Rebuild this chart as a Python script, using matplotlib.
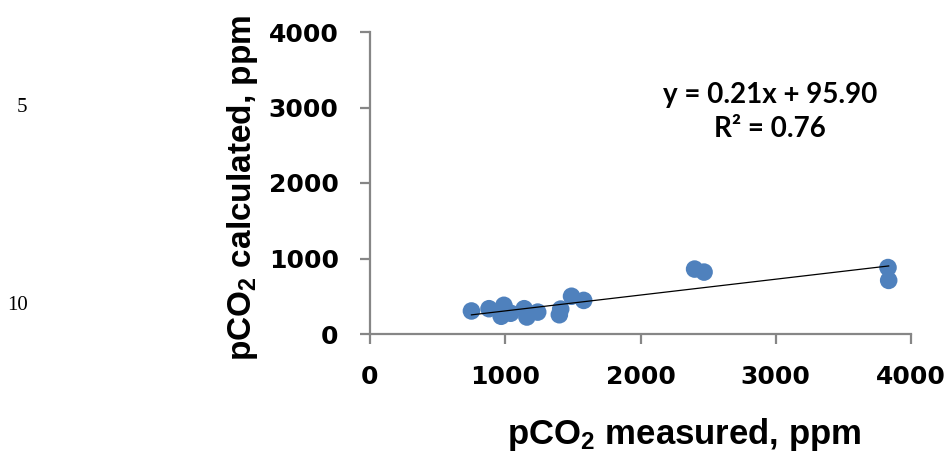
import numpy as np
import matplotlib
matplotlib.use("Agg")
import matplotlib.pyplot as plt

# measured vs calculated pCO2 (ppm)
pco2_measured = [750, 880, 990, 970, 1040, 1140, 1160, 1240, 1410, 1400, 1490, 1580, 2400, 2470, 3830, 3835]
pco2_calculated = [305, 335, 380, 235, 275, 335, 225, 290, 330, 255, 500, 445, 860, 820, 880, 710]

# trendline as printed on the chart
slope = 0.21
intercept = 95.90
r_squared = 0.76

ticks = [0, 1000, 2000, 3000, 4000]
line_numbers = ["5", "10"]

plt.rcParams['mathtext.fontset'] = 'custom'
plt.rcParams['mathtext.rm'] = 'Liberation Sans:bold'
plt.rcParams['mathtext.bf'] = 'Liberation Sans:bold'
plt.rcParams['mathtext.it'] = 'Liberation Sans:bold'

axis_grey = '#868686'
dot_blue = '#4F81BD'

fig = plt.figure(figsize=(9.5, 4.54), dpi=100)
ax = fig.add_axes([370 / 950, 1 - 334 / 454, (911 - 370) / 950, (334 - 32) / 454])

ax.scatter(pco2_measured, pco2_calculated, s=160, color=dot_blue, edgecolors='none', zorder=2)

x_fit = np.array([min(pco2_measured), max(pco2_measured)])
ax.plot(x_fit, slope * x_fit + intercept, color='black', linewidth=0.9, zorder=3)

ax.set_xlim(0, 4000)
ax.set_ylim(0, 4000)
ax.set_xticks(ticks)
ax.set_yticks(ticks)
for side in ['top', 'right']:
    ax.spines[side].set_visible(False)
for side in ['left', 'bottom']:
    ax.spines[side].set_color(axis_grey)
    ax.spines[side].set_linewidth(1.6)
ax.tick_params(axis='both', direction='out', length=7.5, width=1.6, color=axis_grey,
               labelsize=18, pad=15)
for lab in ax.get_xticklabels() + ax.get_yticklabels():
    lab.set_fontfamily('DejaVu Sans')
    lab.set_fontweight('bold')

ax.set_xlabel(r'pCO$_{2}$ measured, ppm', fontsize=25, fontweight='bold',
              fontfamily='Liberation Sans', labelpad=19)
ax.set_ylabel(r'pCO$_{2}$ calculated, ppm', fontsize=24, fontweight='bold',
              fontfamily='Liberation Sans', labelpad=6)
# the Excel titles sit a bit off the axis centre
ax.xaxis.label.set_x(0.58)
ax.yaxis.label.set_y(0.485)

ax.text(2956, 3170, f'y = {slope:.2f}x + {intercept:.2f}', fontsize=20, fontweight='bold',
        fontfamily='Lato', ha='center', va='center')
ax.text(2956, 2720, f'R² = {r_squared:.2f}', fontsize=20, fontweight='bold',
        fontfamily='Lato', ha='center', va='center')

fig.text(22 / 950, 1 - 108 / 454, line_numbers[0], fontsize=15, fontfamily='Liberation Serif',
         ha='center', va='center')
fig.text(18 / 950, 1 - 306 / 454, line_numbers[1], fontsize=15, fontfamily='Liberation Serif',
         ha='center', va='center')

fig.savefig('out.png', dpi=100)
